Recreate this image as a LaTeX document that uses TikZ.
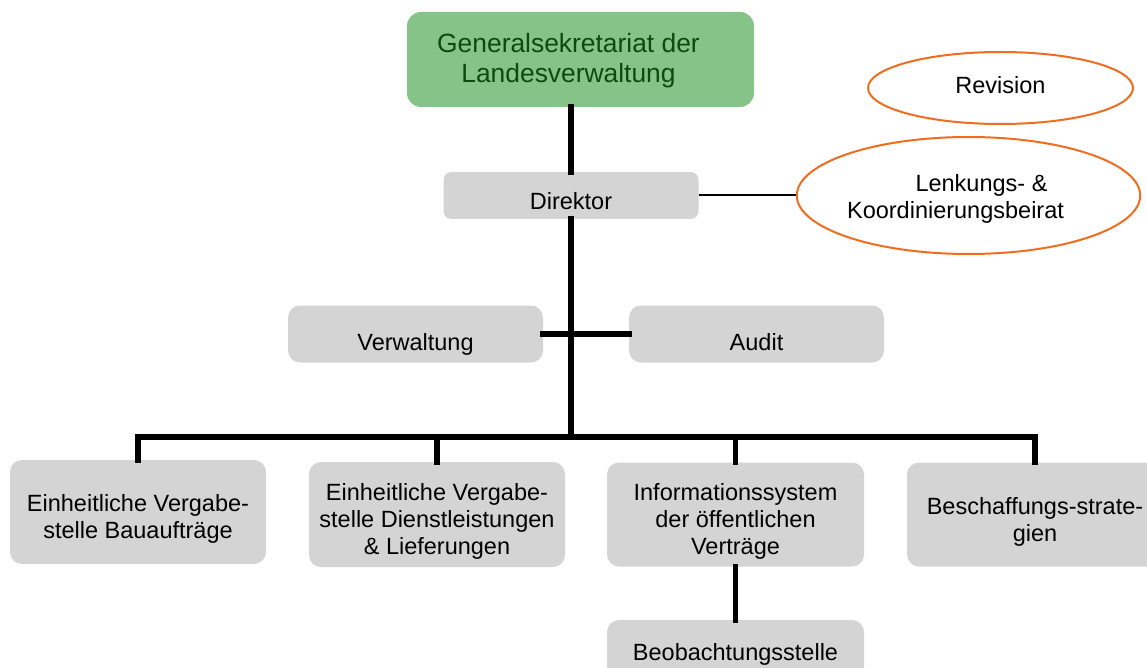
\documentclass[tikz,border=0pt]{standalone}
\usepackage{fontspec}
\setmainfont{Liberation Sans}
\usetikzlibrary{shapes.geometric}
\definecolor{boxgray}{HTML}{D4D4D4}
\definecolor{gsgreen}{HTML}{86C388}
\definecolor{gstext}{HTML}{0D4A0F}
\definecolor{ellorange}{HTML}{F06C1E}
% text block lowered by #1 while keeping its natural size
\newcommand\boxtext[2][9pt]{\raisebox{-#1}[\height][\depth]{\begin{tabular}{@{}c@{}}#2\end{tabular}}}
\tikzset{
  graybox/.style={fill=boxgray, draw=none, rounded corners=12pt, inner sep=0pt,
    font=\fontsize{23.5}{27}\selectfont, text=black},
  greenbox/.style={fill=gsgreen, draw=none, rounded corners=14pt, inner sep=0pt,
    font=\fontsize{26.4}{30}\selectfont, text=gstext},
  oval/.style={ellipse, draw=ellorange, line width=2pt, fill=white, inner sep=0pt,
    font=\fontsize{23.5}{27}\selectfont},
  conn/.style={line width=5.5pt, line join=miter, line cap=rect},
  thinconn/.style={line width=2pt}
}
\begin{document}
\begin{tikzpicture}[x=1pt,y=-1pt]
\useasboundingbox (0,0) rectangle (1147,668);
\clip (0,0) rectangle (1147,668);
% nodes
\node[greenbox, minimum width=347pt, minimum height=95pt] (gs) at (580.5,59.5)
  {\raisebox{-2.5pt}[\height][\depth]{\begin{tabular}{@{}c@{\hspace{24pt}}}Generalsekretariat der\\Landesverwaltung\end{tabular}}};
\node[graybox, rounded corners=8pt, minimum width=255pt, minimum height=47pt] (dir) at (571,195.5) {\boxtext[9pt]{Direktor}};
\node[oval, minimum width=265pt, minimum height=72pt] (rev) at (1000.5,88) {\boxtext[0pt]{Revision}};
\node[oval, minimum width=337pt, minimum height=117pt] (lenk) at (968.5,195.5)
  {\raisebox{-4.5pt}[\height][\depth]{\begin{tabular}{@{}c@{\hspace{26pt}}}\hspace*{52pt}Lenkungs- \&\\Koordinierungsbeirat\end{tabular}}};
\node[graybox, minimum width=255pt, minimum height=57pt] (verw) at (415.5,334) {\boxtext[11.5pt]{Verwaltung}};
\node[graybox, minimum width=255pt, minimum height=57pt] (audit) at (756.5,334) {\boxtext[11.5pt]{Audit}};
\node[graybox, minimum width=256pt, minimum height=104pt] (b1) at (138,512) {\boxtext[8pt]{Einheitliche Vergabe-\\stelle Bauaufträge}};
\node[graybox, minimum width=256pt, minimum height=105pt] (b2) at (437,514.5) {\boxtext[8pt]{Einheitliche Vergabe-\\stelle Dienstleistungen\\\& Lieferungen}};
\node[graybox, minimum width=257pt, minimum height=104pt] (b3) at (735.5,514.5) {\boxtext[8pt]{Informationssystem\\der öffentlichen\\Verträge}};
\node[graybox, minimum width=256pt, minimum height=104pt] (b4) at (1035,514.5) {\boxtext[8.5pt]{Beschaffungs-strate-\\gien}};
\node[graybox, minimum width=257pt, minimum height=64pt] (b5) at (735.5,652) {\boxtext[3pt]{Beobachtungsstelle}};
\coordinate (bar) at (571,437);
% connectors
\draw[conn] (gs.south -| dir.north) -- (dir.north);
\draw[conn] (dir.south) -- (bar);
\draw[conn] (verw.east) -- (audit.west);
\draw[conn] (b1.north) -- (b1.north |- bar) -- (b4.north |- bar) -- (b4.north);
\draw[conn] (b2.north) -- (b2.north |- bar);
\draw[conn] (b3.north) -- (b3.north |- bar);
\draw[conn] (b3.south) -- (b5.north);
\draw[thinconn] (dir.east) -- (lenk.west);
\end{tikzpicture}
\end{document}
